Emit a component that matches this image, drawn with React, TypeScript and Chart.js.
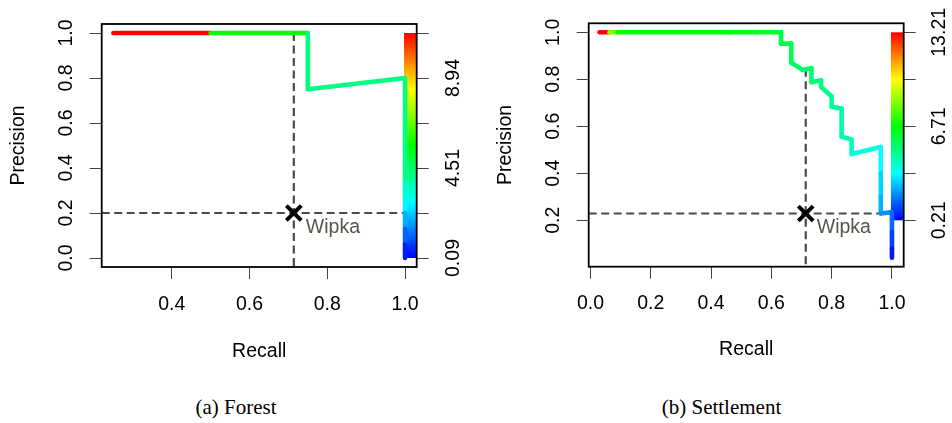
import React, { useEffect, useRef } from "react";
import { Chart, registerables } from "chart.js";

Chart.register(...registerables);

// ---------- (a) Forest ----------
const forestRecall = [0.25, 0.5, 0.75, 0.75, 1.0, 1.0, 1.0, 1.0, 1.0, 1.0, 1.0];
const forestPrecision = [1.0, 1.0, 1.0, 0.75, 0.8, 0.33, 0.26, 0.2, 0.13, 0.06, 0.0];
const forestCutoff = [11.14, 5.6, 4.23, 4.23, 4.2, 3.3, 2.8, 2.0, 1.2, 0.4, 0.09];
const forestCutoffRange = [0.09, 11.14];
const forestBarRange = [0.0, 1.0];
const forestXTicks = [0.4, 0.6, 0.8, 1.0];
const forestYTicks = [0.0, 0.2, 0.4, 0.6, 0.8, 1.0];
const forestBarTicks = [0.0, 0.2, 0.4, 0.6, 0.8, 1.0];
const forestBarLabels = ["0.09", "", "4.51", "", "8.94", ""];
const forestWipka = [0.714, 0.2];
const forestWipkaCurve = 1.0;
const forestXLimits = [0.22, 1.03];
const forestYLimits = [-0.04, 1.04];

// ---------- (b) Settlement ----------
const settleRecall = [0.03, 0.063, 0.09, 0.46, 0.55, 0.632, 0.632, 0.666, 0.666, 0.704, 0.733, 0.733, 0.765, 0.765, 0.8, 0.8, 0.833, 0.833, 0.866, 0.866, 0.963, 0.963, 0.963, 0.963, 1.0, 1.0, 1.0, 1.0];
const settlePrecision = [1.0, 1.0, 1.0, 1.0, 1.0, 1.0, 0.952, 0.952, 0.871, 0.84, 0.848, 0.788, 0.796, 0.767, 0.727, 0.683, 0.676, 0.556, 0.544, 0.482, 0.512, 0.4, 0.3, 0.229, 0.235, 0.15, 0.08, 0.041];
const settleCutoff = [13.21, 8.34, 6.71, 6.44, 6.17, 5.9, 5.79, 5.63, 5.52, 5.41, 5.3, 5.19, 5.08, 4.98, 4.87, 4.76, 4.65, 4.54, 4.38, 3.89, 3.46, 2.92, 2.49, 2.05, 1.56, 1.02, 0.48, 0.21];
const settleCutoffRange = [0.21, 13.21];
const settleBarRange = [0.2, 1.0];
const settleXTicks = [0.0, 0.2, 0.4, 0.6, 0.8, 1.0];
const settleYTicks = [0.2, 0.4, 0.6, 0.8, 1.0];
const settleBarTicks = [0.2, 0.4, 0.6, 0.8, 1.0];
const settleBarLabels = ["0.21", "", "6.71", "", "13.21"];
const settleWipka = [0.714, 0.229];
const settleWipkaCurve = 0.845;
const settleXLimits = [-0.006, 1.039];
const settleYLimits = [0.0026, 1.0384];

const FONT = "'Liberation Sans', Arial, Helvetica, sans-serif";
const SERIF = "'Liberation Serif', 'Times New Roman', serif";
const W = 476;
const H = 380;
const FS = 19.5;

function hsv(h: number): string {
  const hp = (((h % 360) + 360) % 360) / 60;
  const x = 1 - Math.abs((hp % 2) - 1);
  let r = 0, g = 0, b = 0;
  if (hp < 1) { r = 1; g = x; }
  else if (hp < 2) { r = x; g = 1; }
  else if (hp < 3) { g = 1; b = x; }
  else if (hp < 4) { g = x; b = 1; }
  else if (hp < 5) { r = x; b = 1; }
  else { r = 1; b = x; }
  return `rgb(${Math.round(r * 255)},${Math.round(g * 255)},${Math.round(b * 255)})`;
}

function cutoffColor(v: number, range: number[]): string {
  let t = (v - range[0]) / (range[1] - range[0]);
  t = Math.max(0, Math.min(1, t));
  return hsv(240 * (1 - t));
}

type Layout = {
  offsetX: number; left: number; top: number; right: number; bottom: number;
  yTitlePad: number; yTickPad: number; barTickPad: number; xTickPad: number; xTitlePad: number;
  labelDx: number; labelDy: number; captionTop: number; captionCenter: number;
};

type Spec = {
  recall: number[]; precision: number[]; cutoff: number[]; cutoffRange: number[]; barRange: number[];
  xTicks: number[]; yTicks: number[]; barTicks: number[]; barLabels: string[];
  wipka: number[]; wipkaCurve: number; xLimits: number[]; yLimits: number[];
  caption: string; layout: Layout;
};

const panels: Spec[] = [
  {
    recall: forestRecall, precision: forestPrecision, cutoff: forestCutoff, cutoffRange: forestCutoffRange,
    barRange: forestBarRange, xTicks: forestXTicks, yTicks: forestYTicks, barTicks: forestBarTicks,
    barLabels: forestBarLabels, wipka: forestWipka, wipkaCurve: forestWipkaCurve,
    xLimits: forestXLimits, yLimits: forestYLimits, caption: "(a) Forest",
    layout: {
      offsetX: 0, left: 101.7, top: 24, right: 416.7, bottom: 267,
      yTitlePad: 7.3, yTickPad: 9.5, barTickPad: 5.6, xTickPad: 14, xTitlePad: 16.3,
      labelDx: 12, labelDy: 19.5, captionTop: 395, captionCenter: 236,
    },
  },
  {
    recall: settleRecall, precision: settlePrecision, cutoff: settleCutoff, cutoffRange: settleCutoffRange,
    barRange: settleBarRange, xTicks: settleXTicks, yTicks: settleYTicks, barTicks: settleBarTicks,
    barLabels: settleBarLabels, wipka: settleWipka, wipkaCurve: settleWipkaCurve,
    xLimits: settleXLimits, yLimits: settleYLimits, caption: "(b) Settlement",
    layout: {
      offsetX: 476, left: 112.7, top: 23.3, right: 427.7, bottom: 266.7,
      yTitlePad: 17.8, yTickPad: 9.7, barTickPad: 0, xTickPad: 13, xTitlePad: 18.3,
      labelDx: 11, labelDy: 20, captionTop: 395, captionCenter: 721.5,
    },
  },
];

function makeDecor(spec: Spec) {
  return {
    id: "decor",
    beforeDatasetsDraw(chart: any) {
      const { ctx, chartArea } = chart;
      const xs = chart.scales.x;
      const ys = chart.scales.y;
      const x0 = xs.getPixelForValue(1.0) - 1;
      const x1 = chartArea.right;
      const yt = ys.getPixelForValue(spec.barRange[1]);
      const yb = ys.getPixelForValue(spec.barRange[0]);
      const g = ctx.createLinearGradient(0, yb, 0, yt);
      [0, 0.25, 0.5, 0.75, 1].forEach((s) => g.addColorStop(s, hsv(240 * (1 - s))));
      ctx.save();
      ctx.fillStyle = g;
      ctx.fillRect(x0, yt, x1 - x0, yb - yt);
      ctx.restore();
    },
    afterDatasetsDraw(chart: any) {
      const { ctx } = chart;
      const pt = chart.getDatasetMeta(0).data[0];
      if (!pt) return;
      ctx.save();
      ctx.font = `${FS}px ${FONT}`;
      ctx.fillStyle = "#55554c";
      ctx.textAlign = "left";
      ctx.textBaseline = "alphabetic";
      ctx.fillText("Wipka", pt.x + spec.layout.labelDx, pt.y + spec.layout.labelDy);
      ctx.restore();
    },
    afterDraw(chart: any) {
      const { ctx, chartArea } = chart;
      ctx.save();
      ctx.strokeStyle = "#000";
      ctx.lineWidth = 1.8;
      ctx.strokeRect(chartArea.left, chartArea.top, chartArea.right - chartArea.left, chartArea.bottom - chartArea.top);
      ctx.restore();
    },
  };
}

function Panel({ spec }: { spec: Spec }) {
  const ref = useRef<HTMLCanvasElement | null>(null);
  useEffect(() => {
    const L = spec.layout;
    const tickFont = { family: FONT, size: FS };
    const grid = { display: true, drawOnChartArea: false, drawTicks: true, tickLength: 12, color: "#444", lineWidth: 1 };
    const curve = spec.recall.map((r, i) => ({ x: r, y: spec.precision[i] }));
    const chart = new Chart(ref.current as HTMLCanvasElement, {
      type: "line",
      data: {
        datasets: [
          {
            type: "scatter",
            label: "Wipka",
            data: [{ x: spec.wipka[0], y: spec.wipka[1] }],
            pointStyle: "crossRot",
            pointRadius: 10.5,
            borderWidth: 4,
            borderColor: "#000",
            backgroundColor: "#000",
            showLine: false,
            order: 0,
          } as any,
          {
            label: "PR",
            data: curve,
            borderWidth: 4.6,
            borderCapStyle: "round",
            borderJoinStyle: "round",
            pointRadius: 0,
            tension: 0,
            borderColor: cutoffColor(spec.cutoff[0], spec.cutoffRange),
            segment: {
              borderColor: (c: any) => cutoffColor(spec.cutoff[c.p0DataIndex], spec.cutoffRange),
            },
            order: 1,
          } as any,
          {
            label: "vguide",
            data: [{ x: spec.wipka[0], y: spec.wipkaCurve }, { x: spec.wipka[0], y: spec.yLimits[0] }],
            borderColor: "#4a4a4a",
            borderWidth: 2.2,
            borderDash: [8, 4.5],
            pointRadius: 0,
            order: 2,
          } as any,
          {
            label: "hguide",
            data: [{ x: spec.xLimits[0], y: spec.wipka[1] }, { x: 1.0, y: spec.wipka[1] }],
            borderColor: "#4a4a4a",
            borderWidth: 2.2,
            borderDash: [8, 4.5],
            pointRadius: 0,
            order: 2,
          } as any,
        ],
      },
      options: {
        responsive: false,
        animation: false,
        events: [],
        layout: { padding: { top: L.top, left: 0, right: 0, bottom: 0 } },
        plugins: { legend: { display: false }, tooltip: { enabled: false }, title: { display: false } },
        scales: {
          x: {
            type: "linear",
            min: spec.xLimits[0],
            max: spec.xLimits[1],
            bounds: "data",
            afterBuildTicks: (s: any) => { s.ticks = spec.xTicks.map((v) => ({ value: v })); },
            afterFit: (s: any) => { s.height = H - L.bottom; },
            ticks: {
              callback: (v: any) => Number(v).toFixed(1),
              font: tickFont, color: "#000", padding: L.xTickPad, autoSkip: false, maxRotation: 0, minRotation: 0,
            },
            grid,
            border: { display: false },
            title: { display: true, text: "Recall", font: tickFont, color: "#000", padding: { top: 0, bottom: L.xTitlePad } },
          },
          y: {
            type: "linear",
            position: "left",
            min: spec.yLimits[0],
            max: spec.yLimits[1],
            bounds: "data",
            afterBuildTicks: (s: any) => { s.ticks = spec.yTicks.map((v) => ({ value: v })); },
            afterFit: (s: any) => { s.width = L.left; },
            ticks: {
              callback: (v: any) => Number(v).toFixed(1),
              font: tickFont, color: "#000", padding: L.yTickPad, autoSkip: false,
              minRotation: 90, maxRotation: 90, crossAlign: "center",
            },
            grid,
            border: { display: false },
            title: { display: true, text: "Precision", font: tickFont, color: "#000", padding: { top: L.yTitlePad, bottom: 0 } },
          },
          y2: {
            type: "linear",
            position: "right",
            min: spec.yLimits[0],
            max: spec.yLimits[1],
            bounds: "data",
            afterBuildTicks: (s: any) => { s.ticks = spec.barTicks.map((v) => ({ value: v })); },
            afterFit: (s: any) => { s.width = W - L.right; },
            ticks: {
              callback: (_v: any, i: number) => spec.barLabels[i],
              font: tickFont, color: "#000", padding: L.barTickPad, autoSkip: false,
              minRotation: 90, maxRotation: 90, crossAlign: "center",
            },
            grid,
            border: { display: false },
          },
        },
      } as any,
      plugins: [makeDecor(spec)],
    });
    return () => chart.destroy();
  }, [spec]);
  return (
    <canvas
      ref={ref}
      width={W}
      height={H}
      style={{ position: "absolute", left: spec.layout.offsetX, top: 0, width: W, height: H }}
    />
  );
}

export default function App() {
  return (
    <div style={{ position: "fixed", left: 0, top: 0, width: 952, height: 423, background: "#fff", overflow: "hidden" }}>
      {panels.map((p, i) => (
        <Panel key={i} spec={p} />
      ))}
      {panels.map((p, i) => (
        <div
          key={"c" + i}
          style={{
            position: "absolute",
            left: p.layout.captionCenter - 150,
            width: 300,
            top: p.layout.captionTop,
            textAlign: "center",
            fontFamily: SERIF,
            fontSize: 21,
            lineHeight: "24px",
            color: "#000",
          }}
        >
          {p.caption}
        </div>
      ))}
    </div>
  );
}
